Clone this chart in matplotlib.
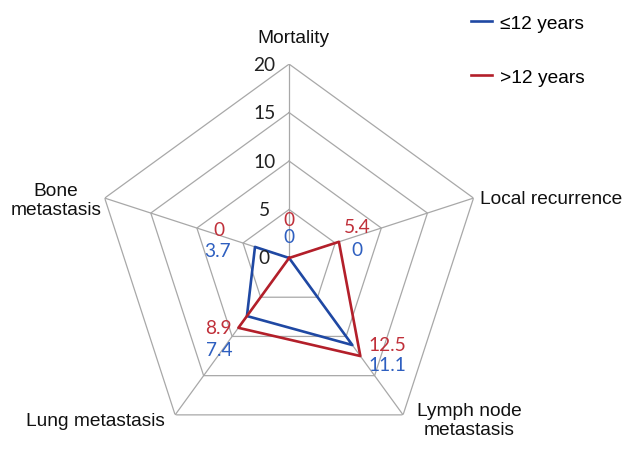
import numpy as np
import matplotlib
matplotlib.use("Agg")
import matplotlib.pyplot as plt

# ---------------------------------------------------------------------------
# DATA
# ---------------------------------------------------------------------------
categories = ["Mortality", "Local recurrence", "Lymph node\nmetastasis",
              "Lung metastasis", "Bone\nmetastasis"]
young = [0, 0, 11.1, 7.4, 3.7]      # <=12 years
older = [0, 5.4, 12.5, 8.9, 0]      # >12 years
rticks = [0, 5, 10, 15, 20]
series_names = ["\u226412 years", ">12 years"]

blue = "#1f48a3"
red = "#b31f2a"
blue_txt = "#2e5fc0"
red_txt = "#c0303a"
grid_col = "#a8a8a8"

# ---------------------------------------------------------------------------
# FIGURE
# ---------------------------------------------------------------------------
fig = plt.figure(figsize=(6.34, 4.52), dpi=100)
ax = fig.add_axes([0.150, -0.002, 0.612, 0.858], projection="polar")
ax.set_theta_offset(np.pi / 2)
ax.set_theta_direction(-1)
ax.set_ylim(0, 20)
ax.grid(False)
ax.spines["polar"].set_visible(False)
ax.set_xticks([])
ax.set_yticks([])
ax.patch.set_alpha(0)

n = len(categories)
theta = np.arange(n) * 2 * np.pi / n
theta_c = np.append(theta, theta[0])

# pentagon grid + spokes
for r in rticks[1:]:
    ax.plot(theta_c, [r] * (n + 1), color=grid_col, lw=0.9, zorder=1)
for t in theta:
    ax.plot([t, t], [0, 20], color=grid_col, lw=0.9, zorder=1)

# series
ax.plot(theta_c, young + young[:1], color=blue, lw=1.9, zorder=3,
        label=series_names[0])
ax.plot(theta_c, older + older[:1], color=red, lw=1.9, zorder=3,
        label=series_names[1])

num_font = "Lato"
lab_font = "Liberation Sans"
fs = 13.8

# radial tick labels
for r in rticks:
    ax.annotate(str(r), xy=(0, r), xytext=(-25, 0), textcoords="offset pixels",
                ha="center", va="center", fontsize=fs, family=num_font,
                color="#222222")

# data labels (offsets in pixels, as placed in the source chart)
red_off = [(0, 38), (18, 15), (27, 12), (-20, 0), (-70, 28)]
blue_off = [(0, 21), (68, 8), (35, -19), (-28, -33), (-37, -4)]
for i in range(n):
    ax.annotate(f"{older[i]:g}", xy=(theta[i], older[i]), xytext=red_off[i],
                textcoords="offset pixels", ha="center", va="center",
                fontsize=fs, family=num_font, color=red_txt)
    ax.annotate(f"{young[i]:g}", xy=(theta[i], young[i]), xytext=blue_off[i],
                textcoords="offset pixels", ha="center", va="center",
                fontsize=fs, family=num_font, color=blue_txt)

# category labels
cat_pos = [((4, 27), "center"), ((6, 0), "left"), ((66, -5), "center"),
           ((-10, -6), "right"), ((-3, -2), "right")]
for i, (off, ha) in enumerate(cat_pos):
    ax.annotate(categories[i], xy=(theta[i], 20), xytext=off,
                textcoords="offset pixels", ha=ha, va="center",
                multialignment="center", fontsize=fs, family=lab_font,
                color="#111111", linespacing=1.2)

leg = fig.legend(loc="upper left", bbox_to_anchor=(0.722, 0.995), frameon=False,
                 prop={"family": lab_font, "size": fs}, handlelength=1.1,
                 handletextpad=0.4, labelspacing=1.9, borderaxespad=0.3)

fig.savefig("out.png", dpi=100, facecolor="white")
